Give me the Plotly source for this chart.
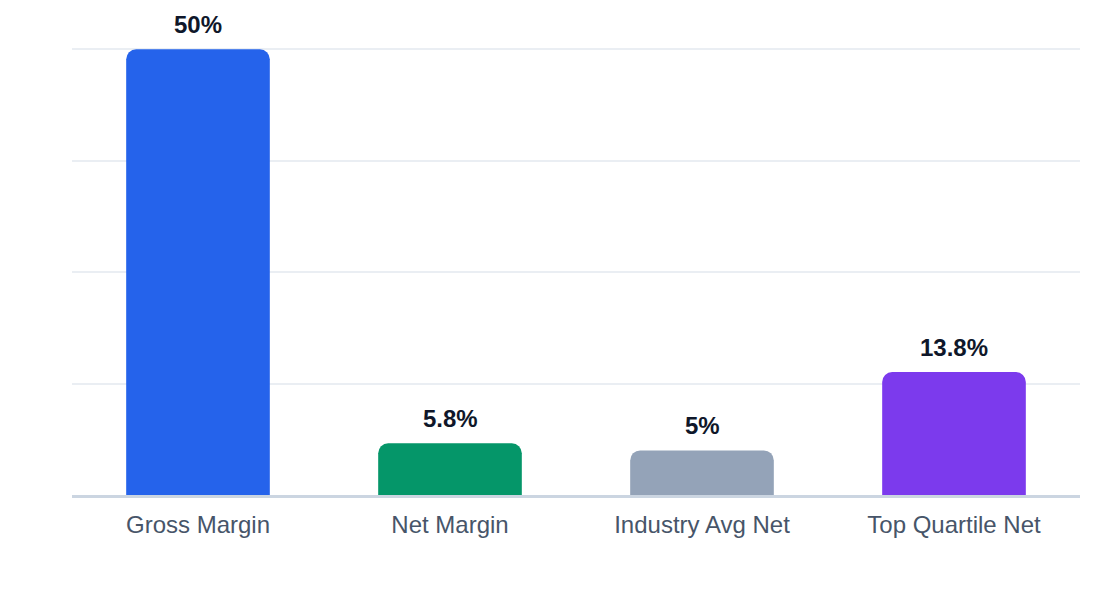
import plotly.graph_objects as go

# margin comparison (percent)
categories = ["Gross Margin", "Net Margin", "Industry Avg Net", "Top Quartile Net"]
values = [50, 5.8, 5, 13.8]
labels = ["50%", "5.8%", "5%", "13.8%"]
colors = ["#2563eb", "#059669", "#94a3b8", "#7c3aed"]

fig = go.Figure()

fig.add_trace(go.Bar(
    x=categories,
    y=values,
    marker=dict(color=colors, line=dict(width=0)),
    hoverinfo="skip",
))

# value labels above the bars
for cat, val, lab in zip(categories, values, labels):
    fig.add_annotation(
        x=cat, y=val, text=lab,
        showarrow=False, yanchor="bottom", yshift=9,
        font=dict(size=24, color="#0f172a", family="Liberation Sans, Arial, sans-serif", weight="bold"),
    )

fig.update_layout(
    width=1120,
    height=600,
    margin=dict(l=64, r=48, t=40, b=113),
    paper_bgcolor="white",
    plot_bgcolor="white",
    bargap=0.43,
    barcornerradius=10,
    showlegend=False,
    font=dict(family="Liberation Sans, Arial, sans-serif"),
    xaxis=dict(
        showline=True,
        linecolor="#cbd5e1",
        linewidth=3,
        ticks="",
        tickfont=dict(size=24, color="#475569"),
        ticklabelstandoff=6,
    ),
    yaxis=dict(
        range=[0, 50.15],
        tickvals=[12.5, 25, 37.5, 50],
        showticklabels=False,
        showgrid=True,
        gridcolor="#eaeef3",
        gridwidth=2,
        zeroline=False,
    ),
)

fig.write_html("out.html")
